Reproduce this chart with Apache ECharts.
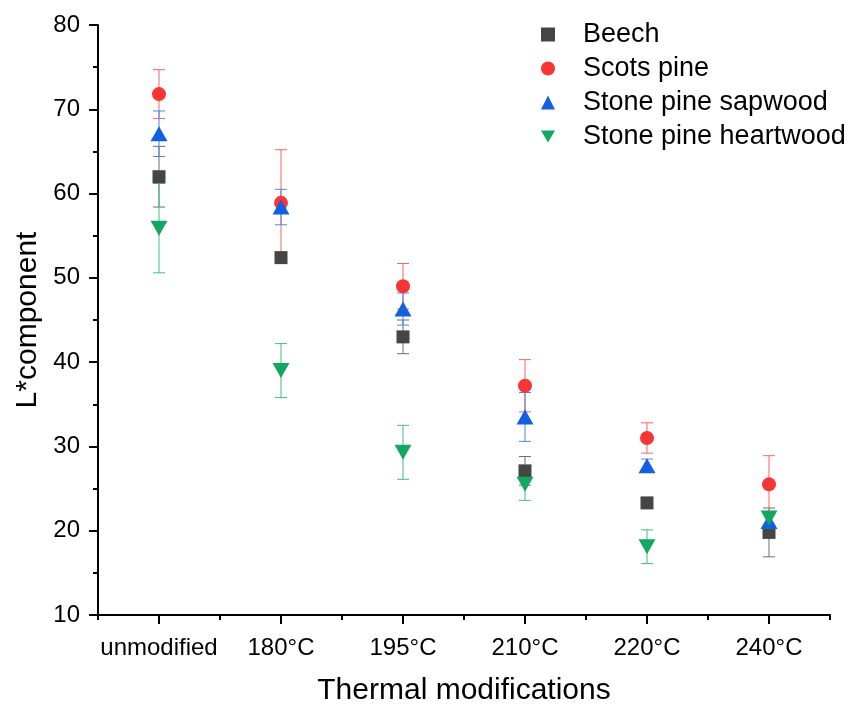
<!DOCTYPE html>
<html>
<head>
<meta charset="utf-8">
<script src="https://cdn.jsdelivr.net/npm/echarts@6/dist/echarts.min.js"></script>
<style>html,body{margin:0;padding:0;background:#fff}#c{width:853px;height:704px}</style>
</head>
<body>
<div id="c"></div>
<script>
var categories = ['unmodified', '180°C', '195°C', '210°C', '220°C', '240°C'];
var yTicks = [10, 20, 30, 40, 50, 60, 70, 80];
var seriesNames = ['Beech', 'Scots pine', 'Stone pine sapwood', 'Stone pine heartwood'];

var beech = [62.0, 52.4, 43.0, 27.1, 23.3, 19.8];
var beechSd = [3.6, 0.4, 2.0, 1.7, 0.3, 2.9];
var scots = [71.8, 58.9, 49.0, 37.2, 31.0, 25.5];
var scotsSd = [2.9, 6.3, 2.7, 3.1, 1.8, 3.4];
var sapwood = [67.1, 58.4, 46.3, 33.5, 27.7, 21.1];
var sapwoodSd = [2.7, 2.1, 1.9, 2.9, 0.8, 1.0];
var heartwood = [55.9, 39.0, 29.3, 25.5, 18.1, 21.5];
var heartwoodSd = [5.3, 3.2, 3.2, 1.9, 2.0, 0.8];

var colors = ['#454545', '#F83535', '#1260E0', '#12A862'];
var errColors = ['#6e6e6e', '#FA6464', '#4A88EA', '#45BC82'];
var symbols = ['rect', 'circle', 'triangle', 'path://M0,0L20,0L10,17Z'];
var sizes = [[13, 13], 14, [17, 15], [17, 15]];
var values = [beech, scots, sapwood, heartwood];
var sds = [beechSd, scotsSd, sapwoodSd, heartwoodSd];

var FONT = 'Liberation Sans, Arial, sans-serif';

function errSeries(i) {
  var data = values[i].map(function (v, k) { return [k, v - sds[i][k], v + sds[i][k]]; });
  return {
    type: 'custom',
    name: seriesNames[i] + ' error',
    data: data,
    silent: true,
    renderItem: function (params, api) {
      var x = api.value(0);
      var lo = api.coord([x, api.value(1)]);
      var hi = api.coord([x, api.value(2)]);
      var hw = 6;
      var st = { stroke: errColors[i], lineWidth: 1 };
      return {
        type: 'group',
        children: [
          { type: 'line', shape: { x1: lo[0], y1: lo[1], x2: hi[0], y2: hi[1] }, style: st },
          { type: 'line', shape: { x1: hi[0] - hw, y1: hi[1], x2: hi[0] + hw, y2: hi[1] }, style: st },
          { type: 'line', shape: { x1: lo[0] - hw, y1: lo[1], x2: lo[0] + hw, y2: lo[1] }, style: st }
        ]
      };
    }
  };
}

function markSeries(i) {
  return {
    type: 'scatter',
    name: seriesNames[i],
    data: values[i],
    symbol: symbols[i],
    symbolSize: sizes[i],
    itemStyle: { color: colors[i], opacity: 1 },
    emphasis: { disabled: true }
  };
}

var series = [];
for (var i = 0; i < 4; i++) { series.push(errSeries(i)); series.push(markSeries(i)); }

var chart = echarts.init(document.getElementById('c'), null, { renderer: 'canvas' });
chart.setOption({
  backgroundColor: '#ffffff',
  animation: false,
  textStyle: { fontFamily: FONT },
  legend: {
    data: seriesNames,
    orient: 'vertical',
    left: 536,
    top: 16,
    itemWidth: 14,
    itemHeight: 14,
    itemGap: 7,
    symbolKeepAspect: true,
    textStyle: { fontSize: 27, color: '#000', fontFamily: FONT, lineHeight: 27, padding: [0, 0, 0, 23] }
  },
  grid: { left: 98, right: 23, top: 25, bottom: 89, containLabel: false, outerBoundsMode: 'none' },
  xAxis: [{
    type: 'category',
    data: categories,
    boundaryGap: true,
    position: 'bottom',
    offset: 0,
    name: 'Thermal modifications',
    nameLocation: 'middle',
    nameGap: 61,
    nameTextStyle: { fontSize: 30, color: '#000', fontFamily: FONT },
    axisLine: { lineStyle: { color: '#000', width: 2 } },
    axisTick: { show: true, alignWithLabel: true, interval: 0, length: 9, lineStyle: { color: '#000', width: 2 } },
    axisLabel: { fontSize: 24, color: '#000', margin: 21, fontFamily: FONT, interval: 0 },
    splitLine: { show: false }
  }, {
    type: 'category',
    data: categories,
    boundaryGap: true,
    position: 'bottom',
    offset: 0,
    axisLine: { show: false },
    axisTick: { show: true, alignWithLabel: false, interval: 0, length: 5, lineStyle: { color: '#000', width: 2 } },
    axisLabel: { show: false },
    splitLine: { show: false }
  }],
  yAxis: {
    type: 'value',
    min: yTicks[0],
    max: yTicks[yTicks.length - 1],
    interval: 10,
    name: 'L*component',
    nameLocation: 'middle',
    nameGap: 54,
    nameTextStyle: { fontSize: 30, color: '#000', fontFamily: FONT },
    axisLine: { show: true, lineStyle: { color: '#000', width: 2 } },
    axisTick: { show: true, length: 9, lineStyle: { color: '#000', width: 2 } },
    minorTick: { show: true, splitNumber: 2, length: 5, lineStyle: { color: '#000', width: 2 } },
    axisLabel: { fontSize: 24, color: '#000', margin: 18, fontFamily: FONT },
    splitLine: { show: false }
  },
  series: series
});
</script>
</body>
</html>
